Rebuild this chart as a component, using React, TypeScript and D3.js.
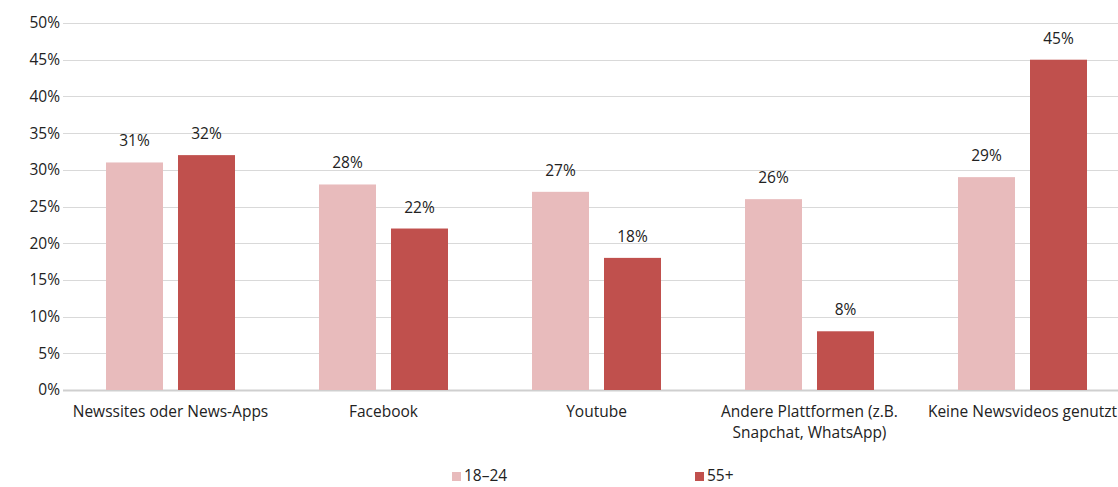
import * as d3 from 'd3';

const categories = [
  'Newssites oder News-Apps',
  'Facebook',
  'Youtube',
  'Andere Plattformen (z.B.\nSnapchat, WhatsApp)',
  'Keine Newsvideos genutzt',
];
const seriesNames = ['18–24', '55+'];
const young = [31, 28, 27, 26, 29];
const old = [32, 22, 18, 8, 45];
const yTicks = [0, 5, 10, 15, 20, 25, 30, 35, 40, 45, 50];

const colors = ['#E8BBBC', '#C0504D'];
const font = "'Open Sans', 'DejaVu Sans', sans-serif";

export default function App() {
  const width = 1118;
  const height = 487;
  const margin = { top: 23, left: 64, bottom: 97 };
  const plotRight = 64 + 213 * 5;

  const x = d3.scaleBand<string>()
    .domain(categories)
    .range([margin.left, plotRight])
    .paddingInner(0)
    .paddingOuter(0);

  // two bars of 57px with a 15px gap, 42px either side
  const inner = d3.scaleBand<string>()
    .domain(seriesNames)
    .range([42, 213 - 42])
    .paddingInner(15 / 72);

  const y = d3.scaleLinear().domain([0, 50]).range([height - margin.bottom, margin.top]);

  const series = [young, old];

  return (
    <svg
      width={width}
      height={height}
      style={{ position: 'absolute', left: 0, top: 0, background: '#fff' }}
      fontFamily={font}
    >
      {/* grid + y labels */}
      {yTicks.map(t => (
        <g key={t}>
          <line
            x1={63}
            x2={width}
            y1={Math.round(y(t)) + 0.5}
            y2={Math.round(y(t)) + 0.5}
            stroke={t === 0 ? '#CFCFCF' : '#D9D9D9'}
            strokeWidth={t === 0 ? 2 : 1}
          />
          <text x={60} y={y(t)} dy="0.35em" textAnchor="end" fontSize={15.5} fill="#222">
            {t}%
          </text>
        </g>
      ))}

      {/* bars */}
      {categories.map((c, i) => (
        <g key={c} transform={`translate(${x(c)},0)`}>
          {seriesNames.map((s, j) => {
            const v = series[j][i];
            const bx = inner(s)!;
            return (
              <g key={s}>
                <rect
                  x={bx}
                  y={y(v)}
                  width={inner.bandwidth()}
                  height={y(0) - y(v)}
                  fill={colors[j]}
                />
                <text
                  x={bx + inner.bandwidth() / 2}
                  y={y(v) - 16}
                  textAnchor="middle"
                  fontSize={15.5}
                  fill="#222"
                >
                  {v}%
                </text>
              </g>
            );
          })}
          {c.split('\n').map((line, k) => (
            <text
              key={k}
              x={x.bandwidth() / 2}
              y={y(0) + 27 + k * 21}
              textAnchor="middle"
              fontSize={15.5}
              fill="#222"
            >
              {line}
            </text>
          ))}
        </g>
      ))}

      {/* legend */}
      {seriesNames.map((s, j) => {
        const lx = [452, 695][j];
        return (
          <g key={s} transform={`translate(${lx},471)`}>
            <rect x={0} y={1} width={9} height={9} fill={colors[j]} />
            <text x={12} y={5} dy="0.35em" fontSize={15.5} fill="#222">
              {s}
            </text>
          </g>
        );
      })}
    </svg>
  );
}
